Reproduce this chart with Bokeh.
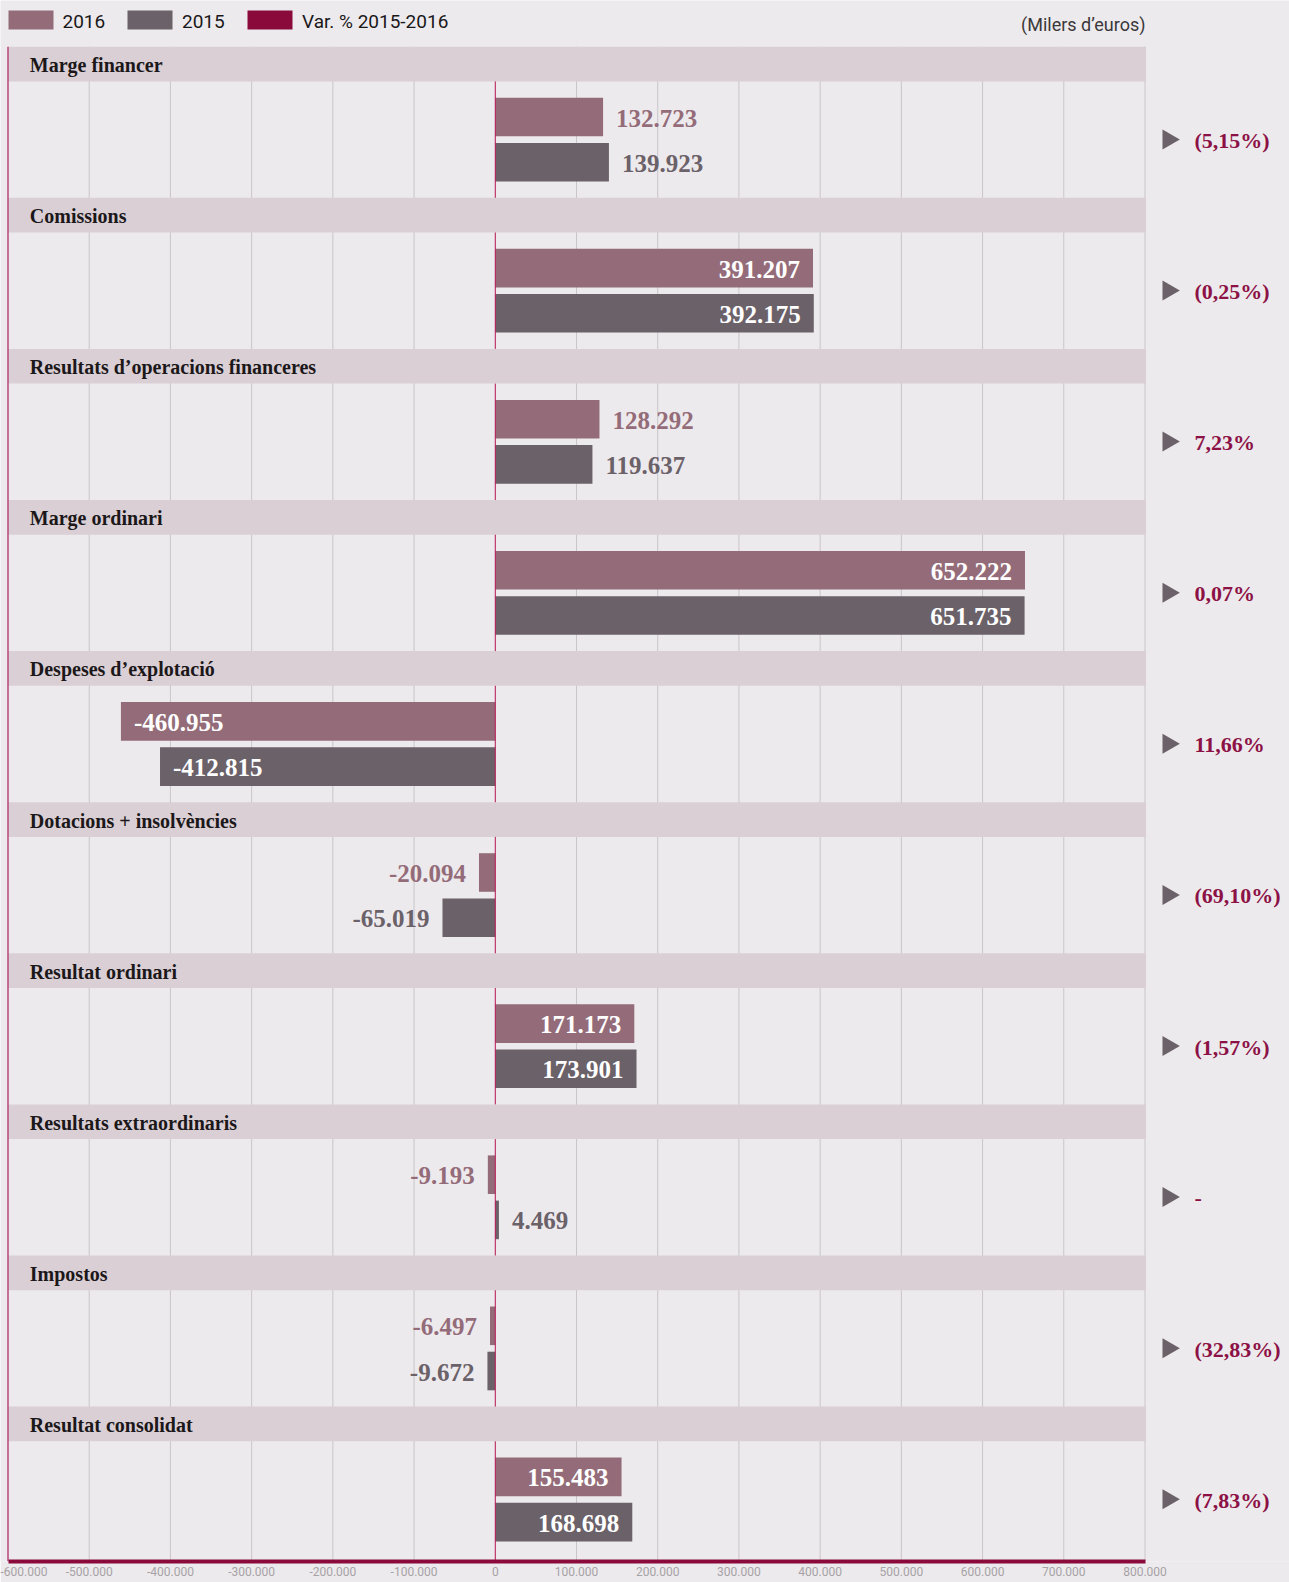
import math
from bokeh.plotting import figure
from bokeh.models import Range1d, FixedTicker, ColumnDataSource
from bokeh.core.properties import value
from bokeh.embed import file_html
from bokeh.resources import INLINE

# ---------------- data ----------------
categories = [
    "Marge financer",
    "Comissions",
    "Resultats d’operacions financeres",
    "Marge ordinari",
    "Despeses d’explotació",
    "Dotacions + insolvències",
    "Resultat ordinari",
    "Resultats extraordinaris",
    "Impostos",
    "Resultat consolidat",
]
values_2016 = [132723, 391207, 128292, 652222, -460955, -20094, 171173, -9193, -6497, 155483]
values_2015 = [139923, 392175, 119637, 651735, -412815, -65019, 173901, 4469, -9672, 168698]
variation = ["(5,15%)", "(0,25%)", "7,23%", "0,07%", "11,66%", "(69,10%)", "(1,57%)", "-", "(32,83%)", "(7,83%)"]
x_ticks = [-600000, -500000, -400000, -300000, -200000, -100000, 0,
           100000, 200000, 300000, 400000, 500000, 600000, 700000, 800000]
tick_labels = ["-600.000", "-500.000", "-400.000", "-300.000", "-200.000", "-100.000", "0",
               "100.000", "200.000", "300.000", "400.000", "500.000", "600.000", "700.000", "800.000"]
legend_labels = ["2016", "2015", "Var. % 2015-2016"]
unit_label = "(Milers d’euros)"

# ---------------- style / layout ----------------
BG = "#edeaed"
HEAD = "#dacfd5"
C16 = "#946c79"
C15 = "#6b6169"
CVAR = "#8a0a3c"
CPCT = "#8c1246"
GRID = "#c9c5c9"
ZERO = "#b5144f"
EDGE = "#b8457a"
SERIF = value("Liberation Serif")
SANS = value("Roboto")

FRAME_W, FRAME_H = 1289, 1561
X_MIN, X_MAX = x_ticks[0], x_ticks[-1]
PX_MIN, PX_MAX = 7.5, 1144.5          # page px of X_MIN / X_MAX
upp = (X_MAX - X_MIN) / (PX_MAX - PX_MIN)
x_start = X_MIN - PX_MIN * upp
x_end = x_start + FRAME_W * upp


def fx(page_x):
    return x_start + page_x * upp


ROW0, ROW_H, HEAD_H = 46.2, 151.1, 34.7
BAR_H = 38.6
OFF16, OFF15, OFFMID = 70.3, 115.5, 92.7

n = len(categories)
row_top = [ROW0 + i * ROW_H for i in range(n)]
panel_top = [t + HEAD_H for t in row_top]
panel_bot = [t + ROW_H for t in row_top[:-1]] + [FRAME_H]

p = figure(frame_width=FRAME_W, frame_height=FRAME_H, output_backend="svg", toolbar_location=None,
           x_range=Range1d(x_start, x_end), y_range=Range1d(FRAME_H, 0), min_border=0,
           min_border_bottom=21)
p.background_fill_color = BG
p.border_fill_color = BG
p.outline_line_color = None
p.xgrid.visible = False
p.ygrid.visible = False
p.yaxis.visible = False

ax = p.xaxis[0]
ax.ticker = FixedTicker(ticks=x_ticks)
ax.major_label_overrides = {t: l for t, l in zip(x_ticks, tick_labels)}
ax.bounds = (X_MIN, X_MAX)
ax.axis_line_color = CVAR
ax.axis_line_width = 4
ax.major_tick_line_color = None
ax.minor_tick_line_color = None
ax.major_tick_out = 0
ax.major_tick_in = 0
ax.major_label_standoff = 5
ax.major_label_text_font = "Roboto"
ax.major_label_text_font_size = "12px"
ax.major_label_text_color = "#a6a3a6"

# grid lines
grid_x = [t for t in x_ticks[1:] if t != 0]
p.segment(x0=grid_x, x1=grid_x, y0=[ROW0] * len(grid_x), y1=[FRAME_H] * len(grid_x),
          line_color=GRID, line_width=1)

# header bands
p.hbar(y=[t + HEAD_H / 2 for t in row_top], height=HEAD_H, left=X_MIN, right=X_MAX + upp,
       fill_color=HEAD, line_color=None)
p.text(x=[fx(29.3)] * n, y=[t + HEAD_H / 2 + 1 for t in row_top], text=categories,
       text_font=SERIF, text_font_style="bold", text_font_size="20px", text_color="#1c181a",
       text_baseline="middle", text_align="left")

# bars
y16 = [t + OFF16 for t in row_top]
y15 = [t + OFF15 for t in row_top]
p.hbar(y=y16, height=BAR_H, left=0, right=values_2016, fill_color=C16, line_color=None)
p.hbar(y=y15, height=BAR_H, left=0, right=values_2015, fill_color=C15, line_color=None)

# zero line, inside each panel only
p.segment(x0=[0] * n, x1=[0] * n, y0=panel_top, y1=panel_bot, line_color=ZERO, line_width=1)

# left edge
p.segment(x0=[X_MIN], x1=[X_MIN], y0=[ROW0], y1=[FRAME_H], line_color=EDGE, line_width=1.5)


def fmt(v):
    s = f"{abs(v):,}".replace(",", ".")
    return ("-" if v < 0 else "") + s


lab = dict(x=[], y=[], text=[], color=[], align=[], xoff=[])
for vals, ys, col in ((values_2016, y16, C16), (values_2015, y15, C15)):
    for v, y in zip(vals, ys):
        inside = abs(v) >= 150000
        lab["x"].append(v)
        lab["y"].append(y + 1)
        lab["text"].append(fmt(v))
        if inside:
            lab["color"].append("#ffffff")
            lab["align"].append("right" if v > 0 else "left")
            lab["xoff"].append(-13 if v > 0 else 13)
        else:
            lab["color"].append(col)
            lab["align"].append("left" if v > 0 else "right")
            lab["xoff"].append(13 if v > 0 else -13)
p.text(x="x", y="y", text="text", text_color="color", text_align="align", x_offset="xoff",
       source=ColumnDataSource(lab), text_font=SERIF, text_font_style="bold",
       text_font_size="25px", text_baseline="middle")

# variation column
ymid = [t + OFFMID for t in row_top]
p.scatter(x=[fx(1167.8)] * n, y=ymid, marker="triangle", size=20, angle=-math.pi / 2,
          fill_color=C15, line_color=None)
p.text(x=[fx(1194)] * n, y=[y + 1 for y in ymid], text=variation, text_font=SERIF,
       text_font_style="bold", text_font_size="22px", text_color=CPCT,
       text_baseline="middle", text_align="left")

# legend
sq_left = [fx(8), fx(127), fx(247)]
sq_right = [fx(53), fx(172), fx(292)]
p.quad(left=sq_left, right=sq_right, top=[10] * 3, bottom=[29] * 3,
       fill_color=[C16, C15, CVAR], line_color=None)
p.text(x=[fx(62), fx(181.5), fx(301.5)], y=[20.5] * 3, text=legend_labels, text_font=SANS,
       text_font_size="19px", text_color="#1a181a", text_baseline="middle", text_align="left")
p.text(x=[fx(1145)], y=[24], text=[unit_label], text_font=SANS, text_font_size="18px",
       text_color="#3a383a", text_baseline="middle", text_align="right")

open("out.html", "w").write(file_html(p, INLINE))
